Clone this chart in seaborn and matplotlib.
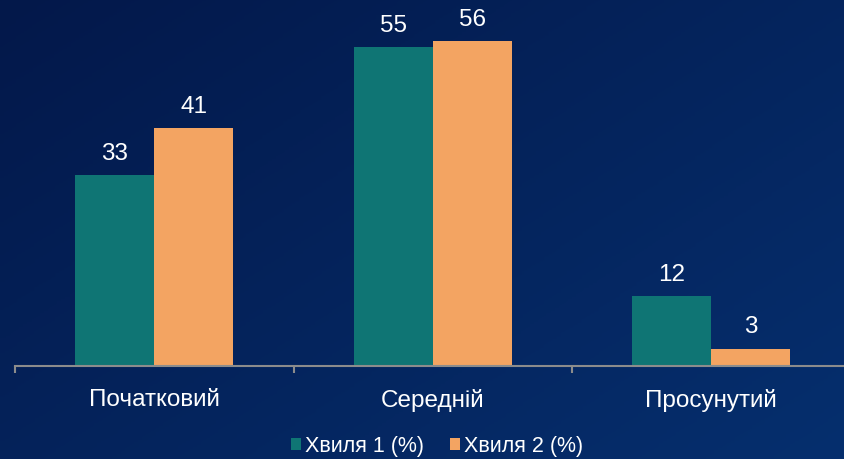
import numpy as np
import pandas as pd
import matplotlib
matplotlib.use("Agg")
import matplotlib.pyplot as plt
from matplotlib.colors import LinearSegmentedColormap
import seaborn as sns

# ---- data ----
categories = ["Початковий", "Середній", "Просунутий"]
series_names = ["Хвиля 1 (%)", "Хвиля 2 (%)"]
wave1 = [33, 55, 12]
wave2 = [41, 56, 3]
colors = ["#0f7574", "#f3a462"]

df = pd.DataFrame({
    "cat": categories * 2,
    "series": [series_names[0]] * 3 + [series_names[1]] * 3,
    "value": wave1 + wave2,
})

sns.set_theme(style="white")
plt.rcParams["font.family"] = ["Liberation Sans", "DejaVu Sans"]

W, H = 844, 460
fig = plt.figure(figsize=(W / 100, H / 100), dpi=100)

# gradient background
bg = fig.add_axes([0, 0, 1, 1], zorder=-10)
yy, xx = np.mgrid[0:1:200j, 0:1:200j]
grad = 0.55 * xx + 0.45 * yy
cmap = LinearSegmentedColormap.from_list("bg", ["#03184a", "#062f6e"])
bg.imshow(grad, cmap=cmap, aspect="auto", extent=[0, 1, 0, 1], origin="upper")
bg.axis("off")

ax = fig.add_axes([15 / W, 93 / H, 835.5 / W, 367 / H])
ax.patch.set_alpha(0)
sns.barplot(data=df, x="cat", y="value", hue="series", palette=colors,
            width=0.567, ax=ax, saturation=1, legend=True, linewidth=0)

ax.set_xlim(-0.5, 2.5)
ax.set_ylim(0, 63.3)
for c in ax.containers:
    ax.bar_label(c, fmt="%g", padding=8, color="white", fontsize=17.5)

ax.set_xlabel("")
ax.set_ylabel("")
ax.set_yticks([])
for s in ["top", "right", "left"]:
    ax.spines[s].set_visible(False)
ax.spines["bottom"].set_color("#8c8c8c")
ax.spines["bottom"].set_linewidth(1.5)

ax.set_xticks([0, 1, 2], categories)
ax.tick_params(axis="x", which="major", length=0, pad=15.5, labelsize=17.5, colors="white")
ax.set_xticks([-0.5, 0.5, 1.5, 2.5], minor=True)
ax.tick_params(axis="x", which="minor", length=5, width=1.5, color="#8c8c8c", direction="out", bottom=True)

handles, labels = ax.get_legend_handles_labels()
ax.get_legend().remove()
fig.legend(handles, labels, loc="center", bbox_to_anchor=(437 / W, 1 - 447 / H),
           ncol=2, frameon=False, fontsize=15.5, labelcolor="white",
           handlelength=0.47, handleheight=0.47, handletextpad=0.19, columnspacing=1.2)

fig.savefig("out.png", dpi=100)
